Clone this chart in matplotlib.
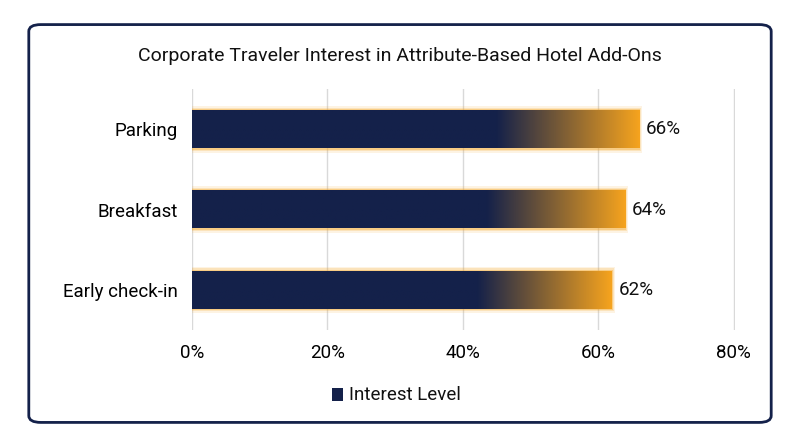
import matplotlib.pyplot as plt
import numpy as np
from matplotlib.colors import LinearSegmentedColormap
from matplotlib.patches import FancyBboxPatch, Rectangle

categories = ['Early check-in', 'Breakfast', 'Parking']
values = [62, 64, 66]
labels = ['62%', '64%', '66%']
xticks = [0, 20, 40, 60, 80]

navy = '#14214a'
orange = '#f5a31e'
cmap = LinearSegmentedColormap.from_list('g', [(0, navy), (0.68, navy), (1, orange)])

plt.rcParams['font.family'] = ['Roboto', 'DejaVu Sans']
fig = plt.figure(figsize=(8, 4.47), dpi=100)
fig.patches.append(FancyBboxPatch((0.036, 0.055), 0.928, 0.89, boxstyle='round,pad=0,rounding_size=0.015',
                                  transform=fig.transFigure, fill=False, edgecolor=navy, linewidth=2))
ax = fig.add_axes([0.24, 0.262, 0.679, 0.538])

h = 0.47
grad = np.linspace(0, 1, 256).reshape(1, -1)
for i, v in enumerate(values):
    for k, a in [(2.2, 0.12), (1.4, 0.2), (0.7, 0.35)]:
        ax.add_patch(Rectangle((-0.2 * k, i - h / 2 - 0.025 * k), v + 0.4 * k, h + 0.05 * k,
                               facecolor=orange, edgecolor='none', alpha=a, zorder=2))
    ax.imshow(grad, cmap=cmap, aspect='auto', extent=(0, v, i - h / 2, i + h / 2), zorder=3)
    ax.text(v + 1.0, i, labels[i], va='center', ha='left', fontsize=13.5, color='#111111')

ax.set_xlim(0, 80.2)
ax.set_ylim(-0.5, 2.5)
ax.set_xticks(xticks)
ax.set_xticklabels([f'{t}%' for t in xticks], fontsize=13.5)
ax.set_yticks(range(len(categories)))
ax.set_yticklabels(categories, fontsize=13.5)
ax.tick_params(length=0, pad=10)
ax.grid(axis='x', color='#d9d9d9', linewidth=1, zorder=0)
ax.set_axisbelow(True)
for s in ax.spines.values():
    s.set_visible(False)

fig.text(0.5, 0.875, 'Corporate Traveler Interest in Attribute-Based Hotel Add-Ons',
         ha='center', va='center', fontsize=14, color='#111111')
fig.patches.append(Rectangle((0.415, 0.102), 0.014, 0.03, transform=fig.transFigure, facecolor=navy))
fig.text(0.436, 0.117, 'Interest Level', ha='left', va='center', fontsize=13.5, color='#111111')

fig.savefig('out.png', dpi=100)
